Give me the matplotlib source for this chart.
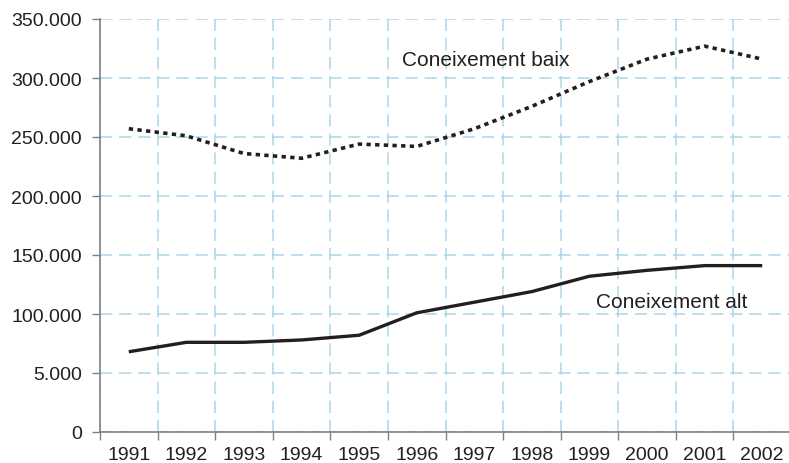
import matplotlib.pyplot as plt
import numpy as np

years = ['1991', '1992', '1993', '1994', '1995', '1996',
	'1997', '1998', '1999', '2000', '2001', '2002']
baix = [257000, 251000, 236000, 232000, 244000, 242000,
	257000, 276000, 297000, 316000, 327000, 316000]
alt = [68000, 76000, 76000, 78000, 82000, 101000,
	110000, 119000, 132000, 137000, 141000, 141000]
y_ticks = [0, 50000, 100000, 150000, 200000, 250000, 300000, 350000]
y_labels = ['0', '5.000', '100.000', '150.000', '200.000', '250.000', '300.000', '350.000']

TEXT = '#231f20'
GRID = '#a9d6eb'
AXIS = '#808080'

def main():
	plt.rcParams['font.family'] = ['Liberation Sans', 'DejaVu Sans']
	fig = plt.figure(figsize=(7.89, 4.64), dpi=100)
	ax = fig.add_axes([100 / 789, 31 / 464, 691 / 789, 413 / 464])

	x = np.arange(len(years)) + 0.5
	ax.plot(x, alt, color=TEXT, lw=2.4, solid_capstyle='butt', zorder=3)
	ax.plot(x, baix, color=TEXT, lw=2.6, linestyle=(0, (1.2, 1.2)), zorder=3)

	ax.set_xlim(0, len(years))
	ax.set_ylim(0, 350000)
	ax.set_xticks(np.arange(len(years) + 1))
	ax.set_xticklabels([])
	ax.set_xticks(x, minor=True)
	ax.set_xticklabels(years, minor=True)
	ax.set_yticks(y_ticks)
	ax.set_yticklabels(y_labels)

	ax.tick_params(axis='x', which='major', length=6, width=1, color=AXIS)
	ax.tick_params(axis='x', which='minor', length=0, pad=10, labelsize=14, labelcolor=TEXT)
	ax.tick_params(axis='y', length=6, width=1, color=AXIS, pad=7, labelsize=14, labelcolor=TEXT)

	ax.grid(True, which='major', color=GRID, lw=1.1, linestyle=(0, (8, 4.5)))
	ax.set_axisbelow(True)
	for s in ['top', 'right']:
		ax.spines[s].set_visible(False)
	for s in ['left', 'bottom']:
		ax.spines[s].set_color(AXIS)
		ax.spines[s].set_linewidth(1.2)

	ax.text(5.24, 316000, 'Coneixement baix', fontsize=15, color=TEXT, va='center', ha='left')
	ax.text(8.61, 111000, 'Coneixement alt', fontsize=15, color=TEXT, va='center', ha='left')

	fig.savefig('out.png', dpi=100)

if __name__ == '__main__':
	main()
